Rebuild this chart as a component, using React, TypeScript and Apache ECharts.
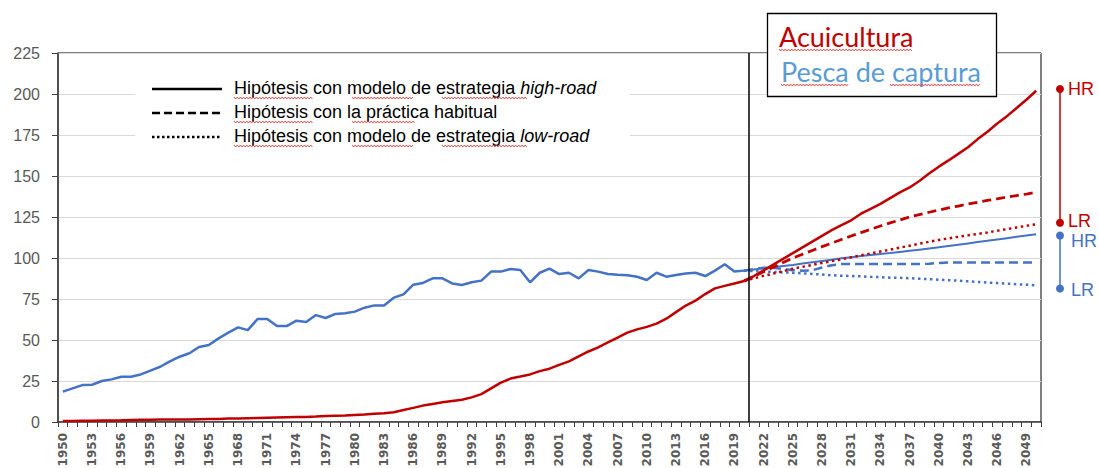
import React, { useEffect, useRef } from "react";
import * as echarts from "echarts";

const years: string[] = Array.from({ length: 101 }, (_, i) => String(1950 + i));

// Historical 1950-2020
const blueHist = [
  18.5, 20.5, 22.5, 22.7, 25, 26, 27.6, 27.6, 29, 31.3,
  33.7, 37, 39.8, 41.9, 45.7, 47, 51, 54.5, 57.7, 56,
  62.8, 62.8, 58.5, 58.5, 61.8, 61, 65.2, 63.4, 65.9, 66.3,
  67.3, 69.7, 71.1, 71.1, 75.8, 77.8, 83.7, 84.8, 87.6, 87.6,
  84.5, 83.5, 85.2, 86.2, 91.7, 91.7, 93.3, 92.7, 85.2, 91,
  93.5, 90.2, 91, 87.6, 92.7, 91.7, 90.2, 89.8, 89.5, 88.6,
  86.6, 91, 88.6, 89.6, 90.6, 91, 89, 92.3, 96.2, 91.7,
  92.3,
];
const redHist = [
  0.6, 0.6, 0.7, 0.8, 0.9, 0.9, 1.0, 1.2, 1.3, 1.4,
  1.5, 1.5, 1.6, 1.6, 1.7, 1.8, 1.9, 2.1, 2.2, 2.3,
  2.4, 2.6, 2.8, 2.9, 3.0, 3.1, 3.3, 3.6, 3.8, 4.0,
  4.3, 4.6, 5.0, 5.3, 6.0, 7.3, 8.6, 10, 11, 12,
  12.8, 13.6, 15, 17, 20.5, 24, 26.5, 27.7, 29, 31,
  32.5, 34.8, 37, 40, 43, 45.5, 48.5, 51.5, 54.5, 56.5,
  58, 60, 63, 67, 71, 74, 78, 81.5, 83, 84.5,
  86,
];

// Projections 2020-2050
const redHR = [
  86, 89, 92.5, 96, 99.5, 103, 106.5, 110, 113.5, 117,
  120, 123, 127, 130, 133, 136.5, 140, 143, 147, 151.5,
  155.7, 159.5, 163.5, 167.5, 172.5, 177, 182, 186.5, 191.5, 196.5,
  202,
];
const redBAU = [
  86, 88.8, 91.6, 94.4, 97.2, 100, 102.3, 104.6, 106.9, 109.1,
  111.3, 113.4, 115.5, 117.5, 119.5, 121.4, 123.2, 125, 126.5, 127.9,
  129.2, 130.5, 131.7, 132.9, 134, 135.1, 136.1, 137.1, 138.1, 139,
  140,
];
const redLR = [
  86, 87.6, 89.1, 90.5, 92, 93.4, 94.6, 95.8, 97, 98.1,
  99.2, 100.4, 101.6, 102.8, 104, 105.1, 106.3, 107.5, 108.7, 109.9,
  111, 112, 112.9, 113.8, 114.7, 115.6, 116.6, 117.6, 118.6, 119.6,
  120.6,
];
const blueHR = [
  92.3, 93, 93.7, 94.4, 95.1, 95.8, 96.6, 97.4, 98.2, 99,
  99.8, 100.5, 101.2, 101.8, 102.4, 103, 103.7, 104.4, 105.1, 105.8,
  106.5, 107.3, 108.1, 108.9, 109.7, 110.5, 111.3, 112.1, 112.9, 113.7,
  114.5,
];
const blueBAU = [
  92.3, 93.2, 94, 94, 93.3, 92.6, 92.2, 92.5, 94.2, 95.6,
  96.3, 96.3, 96.3, 96.3, 96.3, 96.3, 96.3, 96.3, 96.3, 96.5,
  97, 97.2, 97.2, 97.2, 97.2, 97.2, 97.2, 97.2, 97.2, 97.2,
  97.2,
];
const blueLR = [
  92.3, 92, 91.7, 91.5, 91.2, 91, 90.6, 90.3, 89.9, 89.5,
  89.2, 89, 88.8, 88.5, 88.3, 88, 87.9, 87.7, 87.4, 87.1,
  86.8, 86.5, 86.2, 85.8, 85.4, 85, 84.7, 84.4, 84, 83.7,
  83.3,
];

// Right-side range markers
const markerLabels = ["HR", "LR"];
const redRange = [203, 121.5];
const blueRange = [113.7, 81.4];

const dividerYear = 2020.5;

const legendLabels = [
  ["Hipótesis con modelo de estrategia ", "high-road"],
  ["Hipótesis con la práctica habitual", ""],
  ["Hipótesis con modelo de estrategia ", "low-road"],
];

const RED = "#C00000";
const BLUE = "#4472C4";
const GRAY = "#595959";

const PROJ_START = 70;

function padHist(v: number[]) {
  return years.map((_, i) => (i < v.length ? v[i] : "-"));
}
function padProj(v: number[]) {
  return years.map((_, i) => (i >= PROJ_START && i - PROJ_START < v.length ? v[i - PROJ_START] : "-"));
}

const DASH = [9, 5];
const DOT = [2.5, 3.5];

function lineSeries(data: any[], color: string, width: number, type: any) {
  return {
    type: "line",
    data,
    symbol: "none",
    silent: true,
    lineStyle: { color, width, type, cap: "butt" },
    xAxisIndex: 0,
    yAxisIndex: 0,
  };
}

// spell-check style wavy underline (decoration)
function squiggle(x1: number, x2: number, y: number) {
  const pts: number[][] = [];
  let k = 0;
  for (let x = x1; x <= x2; x += 1.6) {
    pts.push([x, y + (k % 2 ? 1 : -1)]);
    k++;
  }
  return {
    type: "polyline",
    z: 14,
    shape: { points: pts },
    style: { stroke: "#E83C3C", lineWidth: 0.9, fill: null },
  };
}

export default function App() {
  const ref = useRef<HTMLDivElement>(null);
  useEffect(() => {
    if (!ref.current) return;
    const chart = echarts.init(ref.current, undefined, { renderer: "svg" });
    const legendFont = "Liberation Sans";
    const g: any[] = [];
    g.push({
      type: "rect",
      z: 10,
      shape: { x: 135, y: 72, width: 495, height: 80 },
      style: { fill: "#fff" },
    });
    const rowsY = [88, 112, 136];
    const dashes: any[] = [null, [8, 4], [2.5, 2.5]];
    rowsY.forEach((y, i) => {
      g.push({
        type: "line",
        z: 11,
        shape: { x1: 152, y1: y + 1, x2: 222, y2: y + 1 },
        style: { stroke: "#000", lineWidth: 2.5, lineDash: dashes[i] },
      });
      g.push({
        type: "text",
        z: 11,
        x: 234,
        y: y,
        style: {
          rich: {
            n: { fontFamily: legendFont, fontSize: 18, fill: "#000" },
            i: { fontFamily: legendFont, fontSize: 18, fill: "#000", fontStyle: "italic" },
          },
          text: "{n|" + legendLabels[i][0] + "}" + (legendLabels[i][1] ? "{i|" + legendLabels[i][1] + "}" : ""),
          verticalAlign: "middle",
        },
      });
      g.push(squiggle(234, 314, y + 10));
      if (i === 1) {
        g.push(squiggle(352, 416, y + 10));
      } else {
        g.push(squiggle(352, 414, y + 10));
        g.push(squiggle(442, 528, y + 10));
      }
    });
    // Top right box
    g.push({
      type: "rect",
      z: 12,
      shape: { x: 767.5, y: 13.5, width: 229, height: 83 },
      style: { fill: "#fff", stroke: "#000", lineWidth: 1.3 },
    });
    g.push({
      type: "text",
      z: 13,
      x: 779,
      y: 36,
      style: { text: "Acuicultura", fill: RED, fontFamily: "Lato", fontSize: 27, verticalAlign: "middle" },
    });
    g.push({
      type: "text",
      z: 13,
      x: 781,
      y: 71,
      style: { text: "Pesca de captura", fill: "#5B9BD5", fontFamily: "Lato", fontSize: 27, verticalAlign: "middle" },
    });
    g.push(squiggle(779, 913, 50));
    g.push(squiggle(781, 849, 85));
    g.push(squiggle(890, 981, 85));

    const rangeSeries = (vals: number[], color: string, dist: number, offsets: number[][]) => ({
      type: "line",
      xAxisIndex: 2,
      yAxisIndex: 1,
      silent: true,
      data: vals.map((v, i) => ({
        value: [0.5, v],
        name: markerLabels[i],
        label: { offset: offsets[i] },
      })),
      symbol: "circle",
      symbolSize: 8,
      lineStyle: { color, width: 1.5 },
      itemStyle: { color },
      label: {
        show: true,
        position: "right",
        distance: dist,
        formatter: "{b}",
        color,
        fontFamily: "Liberation Sans",
        fontSize: 18,
      },
    });

    chart.setOption({
      animation: false,
      backgroundColor: "#fff",
      grid: [
        {
          left: 58,
          right: 58,
          top: 53,
          bottom: 46,
          show: true,
          borderColor: "#000",
          borderWidth: 1,
          backgroundColor: "transparent",
          containLabel: false,
          outerBoundsMode: "none",
        },
        { left: 1050, width: 20, top: 53, bottom: 46, containLabel: false, outerBoundsMode: "none" },
      ],
      xAxis: [
        {
          type: "category",
          gridIndex: 0,
          data: years,
          boundaryGap: true,
          axisLine: { lineStyle: { color: "#404040", width: 1.5 } },
          axisTick: { show: true, interval: 0, length: 5, lineStyle: { color: "#404040" } },
          axisLabel: {
            interval: 2,
            rotate: 90,
            margin: 11,
            color: GRAY,
            fontFamily: "DejaVu Sans",
            fontWeight: "bold",
            fontSize: 12,
          },
          splitLine: { show: false },
        },
        { type: "value", gridIndex: 0, min: 1949.5, max: 2050.5, show: false },
        { type: "value", gridIndex: 1, min: 0, max: 1, show: false },
      ],
      yAxis: [
        {
          type: "value",
          gridIndex: 0,
          min: 0,
          max: 225,
          interval: 25,
          axisLine: { show: true, lineStyle: { color: "#404040", width: 1.5 } },
          axisTick: { show: true, length: 6, lineStyle: { color: "#404040" } },
          axisLabel: {
            color: GRAY,
            fontFamily: "Liberation Sans",
            fontSize: 16,
            margin: 18,
          },
          splitLine: { show: true, lineStyle: { color: "#D9D9D9", width: 1 } },
        },
        { type: "value", gridIndex: 1, min: 0, max: 225, show: false },
      ],
      graphic: g,
      series: [
        lineSeries(padHist(blueHist), BLUE, 2.5, "solid"),
        lineSeries(padHist(redHist), RED, 2.5, "solid"),
        lineSeries(padProj(blueHR), BLUE, 2, "solid"),
        lineSeries(padProj(blueBAU), BLUE, 2.5, DASH),
        lineSeries(padProj(blueLR), BLUE, 2.5, DOT),
        lineSeries(padProj(redHR), RED, 2.5, "solid"),
        lineSeries(padProj(redBAU), RED, 2.8, DASH),
        lineSeries(padProj(redLR), RED, 2.5, DOT),
        {
          type: "line",
          xAxisIndex: 1,
          yAxisIndex: 0,
          data: [],
          silent: true,
          markLine: {
            symbol: "none",
            silent: true,
            label: { show: false },
            lineStyle: { color: "#000", width: 1.5, type: "solid" },
            data: [{ xAxis: dividerYear }],
          },
        },
        rangeSeries(redRange, RED, 4, [[0, 0], [0, -2]]),
        rangeSeries(blueRange, BLUE, 7, [[0, 5], [0, 1]]),
      ],
    });
    return () => chart.dispose();
  }, []);
  return (
    <div
      ref={ref}
      style={{ position: "absolute", left: 0, top: 0, width: 1099, height: 468, background: "#fff" }}
    />
  );
}
